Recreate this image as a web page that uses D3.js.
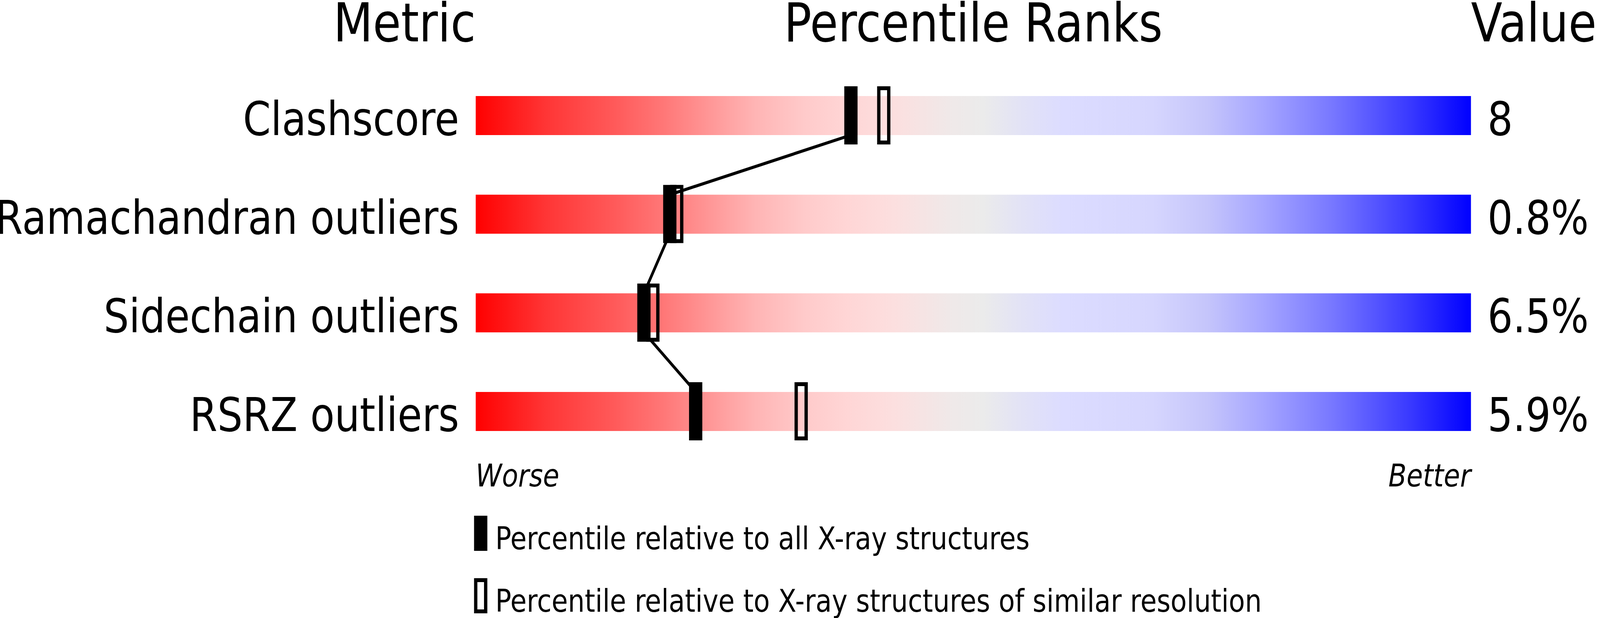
<!DOCTYPE html>
<html>
<head>
<meta charset="utf-8">
<script src="https://cdn.jsdelivr.net/npm/d3@7"></script>
<style>
  html, body { margin: 0; padding: 0; background: #ffffff; width: 100%; height: 100%; overflow: hidden; }
  svg { display: block; width: 100vw; height: 100vh; }
  text { font-family: "DejaVu Sans", sans-serif; fill: #000; }
</style>
</head>
<body>
<script>
// ---- data ----
const metrics = ["Clashscore", "Ramachandran outliers", "Sidechain outliers", "RSRZ outliers"];
const values = ["8", "0.8%", "6.5%", "5.9%"];
const pctAll = [37.7, 19.5, 16.9, 22.1];        // percentile relative to all X-ray structures
const pctSimilar = [41.0, 20.2, 17.8, 32.7];    // percentile relative to similar resolution
const headers = ["Metric", "Percentile Ranks", "Value"];
const endLabels = ["Worse", "Better"];
const legendLabels = ["Percentile relative to all X-ray structures",
                      "Percentile relative to X-ray structures of similar resolution"];

// ---- layout ----
const W = 4823, H = 1583;
const barH = 100;
const x = d3.scaleLinear().domain([0, 100]).range([1434, 4434]);
const y = d3.scalePoint().domain(metrics).range([246, 1004]);

const svg = d3.select("body").append("svg")
  .attr("viewBox", `0 0 ${W} ${H}`)
  .attr("preserveAspectRatio", "none");

// gradient
const stops = [
  [0, "#ff0000"], [0.07, "#ff3535"], [0.14, "#ff5a5a"], [0.19, "#ff7878"],
  [0.24, "#ff9a9a"], [0.28, "#ffb4b4"], [0.33, "#ffcaca"], [0.37, "#ffd5d5"],
  [0.42, "#fcdfdf"], [0.48, "#efe9e9"], [0.51, "#ebebeb"], [0.55, "#e2e2f6"],
  [0.59, "#dcdcff"], [0.68, "#d6d6fe"], [0.735, "#c5c5fb"], [0.79, "#a6a6ff"],
  [0.86, "#7878ff"], [0.94, "#3838ff"], [1, "#0000ff"]
];
const grad = svg.append("defs").append("linearGradient")
  .attr("id", "slider").attr("x1", "0%").attr("x2", "100%").attr("y1", "0%").attr("y2", "0%");
grad.selectAll("stop").data(stops).join("stop")
  .attr("offset", d => d[0]).attr("stop-color", d => d[1]);

// headers
svg.append("text").attr("x", x(0)).attr("y", 106).attr("text-anchor", "end")
  .attr("font-size", 138).text(headers[0]);
svg.append("text").attr("x", (x(0) + x(100)) / 2).attr("y", 106).attr("text-anchor", "middle")
  .attr("font-size", 138).text(headers[1]);
svg.append("text").attr("x", x(100)).attr("y", 106).attr("text-anchor", "start")
  .attr("font-size", 138).text(headers[2]);

// bars
svg.selectAll("rect.bar").data(metrics).join("rect")
  .attr("class", "bar")
  .attr("x", x(0)).attr("width", x(100) - x(0))
  .attr("y", d => y(d)).attr("height", barH)
  .attr("fill", "url(#slider)");

// row labels
svg.selectAll("text.label").data(metrics).join("text")
  .attr("class", "label")
  .attr("x", x(0) - 50).attr("y", d => y(d) + barH)
  .attr("text-anchor", "end").attr("font-size", 120)
  .text(d => d);

// values
svg.selectAll("text.value").data(values).join("text")
  .attr("class", "value")
  .attr("x", x(100) + 50).attr("y", (d, i) => y(metrics[i]) + barH)
  .attr("font-size", 120)
  .text(d => d);

// connecting line between "all" markers
const pts = [];
metrics.forEach((m, i) => {
  if (i > 0) pts.push([x(pctAll[i]), y(m)]);
  if (i < metrics.length - 1) pts.push([x(pctAll[i]), y(m) + barH]);
});
svg.append("path")
  .attr("d", d3.line()(pts))
  .attr("fill", "none").attr("stroke", "#000").attr("stroke-width", 8);

// similar-resolution markers (open)
svg.selectAll("rect.sim").data(pctSimilar).join("rect")
  .attr("class", "sim")
  .attr("x", d => x(d) - 15).attr("width", 30)
  .attr("y", (d, i) => y(metrics[i]) - 20).attr("height", 139)
  .attr("fill", "none").attr("stroke", "#000").attr("stroke-width", 10);

// all-structure markers (filled)
svg.selectAll("rect.all").data(pctAll).join("rect")
  .attr("class", "all")
  .attr("x", d => x(d) - 20).attr("width", 40)
  .attr("y", (d, i) => y(metrics[i]) - 25).attr("height", 149)
  .attr("fill", "#000");

// Worse / Better
svg.append("text").attr("x", x(0)).attr("y", 1246).attr("font-size", 80)
  .attr("font-style", "italic").text(endLabels[0]);
svg.append("text").attr("x", x(100)).attr("y", 1246).attr("font-size", 80)
  .attr("font-style", "italic").attr("text-anchor", "end").text(endLabels[1]);

// legend
const legY = [1321, 1481];
svg.append("rect").attr("x", 1429).attr("y", legY[0]).attr("width", 40).attr("height", 90)
  .attr("fill", "#000");
svg.append("rect").attr("x", 1434).attr("y", legY[1] + 5).attr("width", 30).attr("height", 80)
  .attr("fill", "none").attr("stroke", "#000").attr("stroke-width", 10);
svg.selectAll("text.leg").data(legendLabels).join("text")
  .attr("class", "leg")
  .attr("x", 1493).attr("y", (d, i) => legY[i] + 86)
  .attr("font-size", 80)
  .text(d => d);
</script>
</body>
</html>
